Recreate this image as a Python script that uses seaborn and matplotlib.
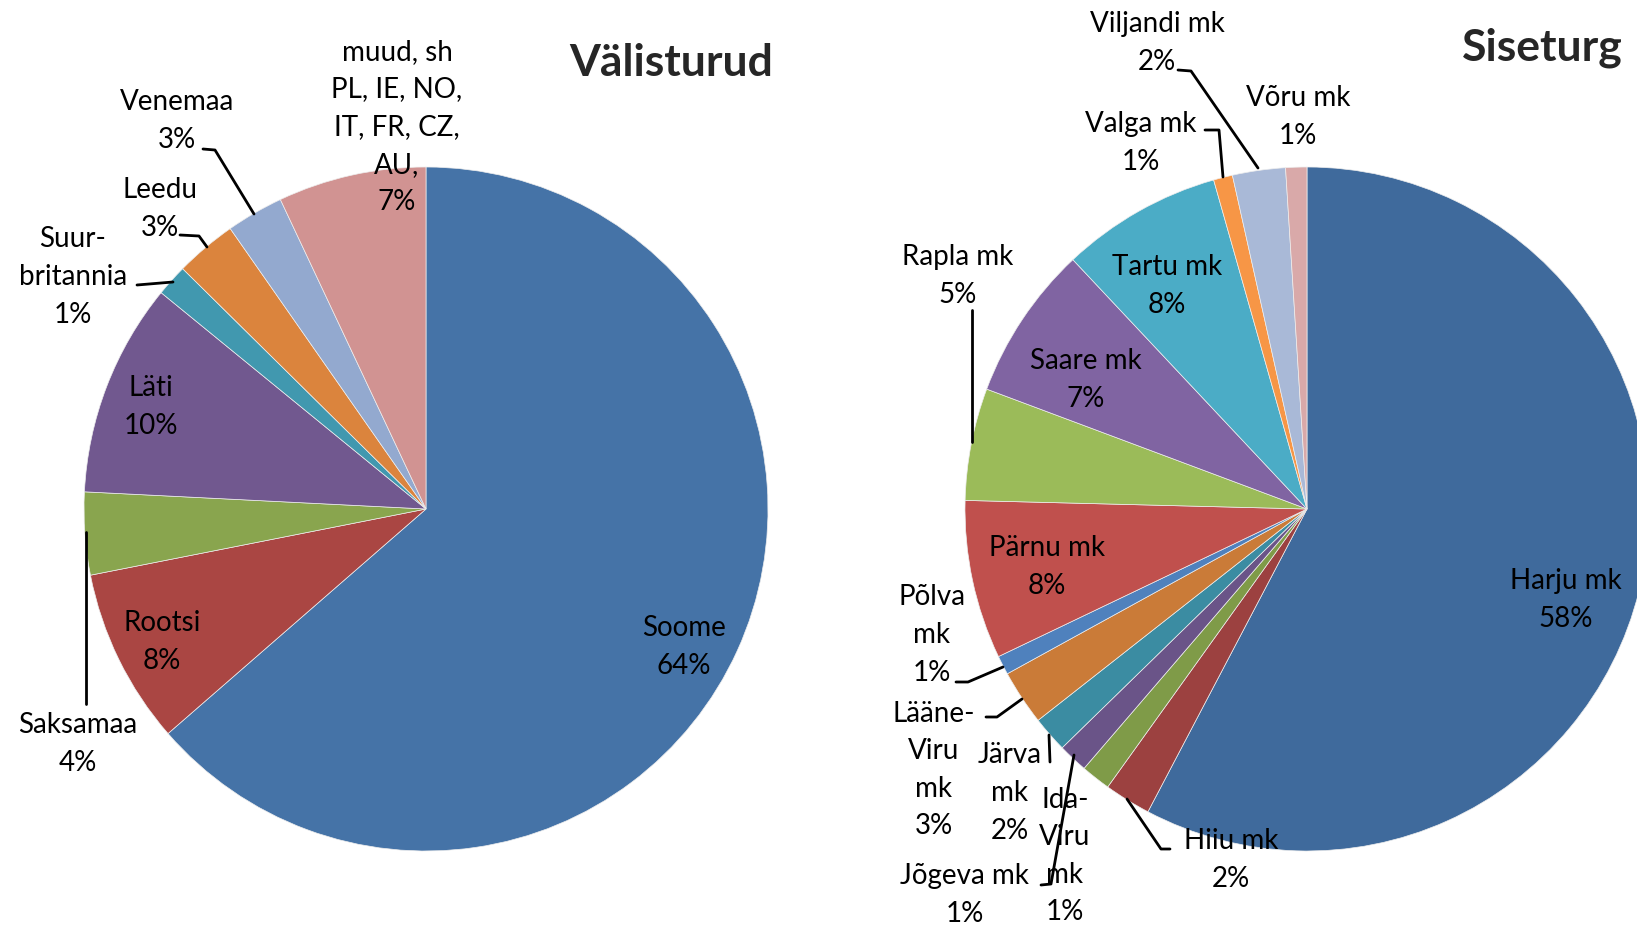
import matplotlib
matplotlib.use("Agg")
import matplotlib.pyplot as plt
from matplotlib.lines import Line2D
import seaborn as sns

# ---------------- data ----------------
# Välisturud (export markets), clockwise from 12 o'clock
valis_names = ["Soome", "Rootsi", "Saksamaa", "Läti", "Suur-\nbritannia",
               "Leedu", "Venemaa", "muud, sh\nPL, IE, NO,\nIT, FR, CZ,\nAU,"]
valis_share = [63.6, 8.3, 3.9, 10.1, 1.5, 2.9, 2.7, 7.0]
valis_pct = ["64%", "8%", "4%", "10%", "1%", "3%", "3%", "7%"]
valis_colors = ["#4573A7", "#AA4643", "#89A54E", "#71588F",
                "#4198AF", "#DB843D", "#93A9CF", "#D19392"]

# Siseturg (domestic market by county)
sise_names = ["Harju mk", "Hiiu mk", "Ida-\nViru\nmk", "Jõgeva mk", "Järva\nmk",
              "Lääne-\nViru\nmk", "Põlva\nmk", "Pärnu mk", "Rapla mk", "Saare mk",
              "Tartu mk", "Valga mk", "Viljandi mk", "Võru mk"]
sise_share = [57.7, 2.2, 1.4, 1.4, 1.7, 2.6, 0.9, 7.5, 5.3, 7.3, 7.6, 0.9, 2.5, 1.0]
sise_pct = ["58%", "2%", "1%", "1%", "2%", "3%", "1%", "8%", "5%", "7%",
            "8%", "1%", "2%", "1%"]
sise_colors = ["#3F6A9C", "#9C4140", "#7F9B48", "#6A5488", "#3B8CA2", "#CA7B38",
               "#4F81BD", "#C0504D", "#9BBB59", "#8064A2", "#4BACC6", "#F79646",
               "#A9B9D7", "#D9A9A9"]

# ---------------- layout (pixels in the 1637x928 canvas) ----------------
W, H = 1637, 928
R = 342
valis_center = (426, 510)
sise_center = (1307, 510)

valis_label_xy = [(684, 647), (162, 642), (78, 744), (151, 407), (73, 277),
                  (160, 209), (177, 121), (397, 127)]
sise_label_xy = [(1566, 600), (1231, 860), (1065, 856), (965, 895), (1010, 793),
                 (934, 770), (932, 635), (1047, 567), (958, 276), (1086, 380),
                 (1167, 286), (1141, 143), (1157, 43), (1298, 117)]

leaders = [
    [(86, 533), (86, 705)],
    [(137, 286), (173, 283)],
    [(180, 236), (199, 237), (207, 248)],
    [(203, 150), (215, 151), (254, 215)],
    [(1127, 800), (1161, 850), (1170, 850)],
    [(1074, 756), (1051, 885), (1041, 886)],
    [(1049, 736), (1050, 763)],
    [(1022, 700), (997, 718), (986, 718)],
    [(1003, 668), (968, 683), (956, 683)],
    [(972, 311), (972, 443)],
    [(1223, 178), (1219, 131), (1205, 131)],
    [(1258, 169), (1191, 72), (1178, 71)],
]

sns.set_theme(style="white")
plt.rcParams["font.family"] = ["Lato", "DejaVu Sans"]

fig = plt.figure(figsize=(W / 100, H / 100), dpi=100)
fig.patch.set_facecolor("white")


def fx(x):
    return x / W


def fy(y):
    return 1 - y / H


def draw_pie(center, shares, colors):
    cx, cy = center
    ax = fig.add_axes([fx(cx - R), fy(cy + R), 2 * R / W, 2 * R / H])
    ax.pie(shares, colors=colors, startangle=90, counterclock=False, radius=1,
           wedgeprops=dict(linewidth=0.5, edgecolor="#EEEEEE"))
    ax.set_xlim(-1, 1)
    ax.set_ylim(-1, 1)
    ax.axis("off")
    return ax


draw_pie(valis_center, valis_share, valis_colors)
draw_pie(sise_center, sise_share, sise_colors)

for names, pcts, xys in [(valis_names, valis_pct, valis_label_xy),
                         (sise_names, sise_pct, sise_label_xy)]:
    for name, pct, (x, y) in zip(names, pcts, xys):
        fig.text(fx(x), fy(y), f"{name}\n{pct}", ha="center", va="center",
                 fontsize=20, linespacing=1.55, color="black")

for pts in leaders:
    xs = [fx(p[0]) for p in pts]
    ys = [fy(p[1]) for p in pts]
    fig.add_artist(Line2D(xs, ys, transform=fig.transFigure, color="black", lw=2))

fig.text(fx(671), fy(63), "Välisturud", ha="center", va="center",
         fontsize=32, fontweight="bold")
fig.text(fx(1542), fy(48), "Siseturg", ha="center", va="center",
         fontsize=32, fontweight="bold")

fig.savefig("out.png", dpi=100, facecolor="white")
